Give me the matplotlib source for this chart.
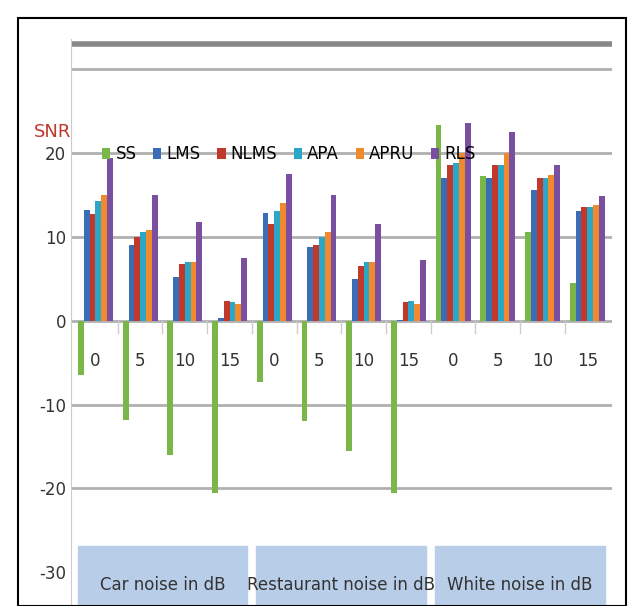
import numpy as np
import matplotlib.pyplot as plt
from matplotlib.patches import Rectangle

series = ['SS', 'LMS', 'NLMS', 'APA', 'APRU', 'RLS']
colors = ['#7ab648', '#3a6db5', '#c0392b', '#2aa7c8', '#f08a2c', '#7b4fa0']
levels = ['0', '5', '10', '15']
groups = ['Car noise in dB', 'Restaurant noise in dB', 'White noise in dB']

ss   = [-6.5, -11.8, -16, -20.5, -7.3, -12, -15.5, -20.5, 23.3, 17.2, 10.5, 4.5]
lms  = [13.2, 9, 5.2, 0.3, 12.8, 8.8, 5, 0.1, 17, 17, 15.5, 13]
nlms = [12.7, 10, 6.7, 2.3, 11.5, 9, 6.5, 2.2, 18.5, 18.5, 17, 13.5]
apa  = [14.2, 10.5, 7, 2.2, 13, 10, 7, 2.3, 18.8, 18.5, 17, 13.5]
apru = [15, 10.8, 7, 2, 14, 10.5, 7, 2, 20, 20, 17.3, 13.8]
rls  = [19.4, 15, 11.8, 7.5, 17.5, 15, 11.5, 7.2, 23.5, 22.5, 18.5, 14.8]
data = [ss, lms, nlms, apa, apru, rls]

fig = plt.figure(figsize=(6.44, 6.06), dpi=100)
fig.patches.append(Rectangle((0.028, 0.0), 0.944, 0.97, transform=fig.transFigure,
                             fill=False, edgecolor='black', lw=1.5))
ax = fig.add_axes([0.11, 0.0, 0.84, 0.935])

x = np.arange(12)
w = 0.13
for i, (s, d) in enumerate(zip(series, data)):
    ax.bar(x + (i - 2.5) * w, d, w, color=colors[i], label=s, zorder=3)

ax.set_xlim(-0.55, 11.55)
ax.set_ylim(-34, 33.5)
ax.set_yticks([-30, -20, -10, 0, 10, 20])
ax.set_yticklabels(['-30', '-20', '-10', '0', '10', '20'])
ax.tick_params(axis='y', length=0, labelsize=12, colors='#333333')
ax.set_xticks([])
for yv in [-20, -10, 0, 10, 20, 30]:
    ax.axhline(yv, color='#b0b0b0', lw=2, zorder=1)
ax.axhline(33, color='#888888', lw=4, zorder=1)
for xv in np.arange(0.5, 11, 1):
    ax.plot([xv, xv], [0, -1.5], color='#cccccc', lw=1, zorder=2)
for k in range(12):
    ax.text(k, -4.8, levels[k % 4], ha='center', va='center', fontsize=12, color='#333333')
for g, name in enumerate(groups):
    ax.add_patch(Rectangle((g * 4 - 0.4, -34), 3.8, 7.2, color='#b8cde8', zorder=2))
    ax.text(g * 4 + 1.5, -31.5, name, ha='center', va='center', fontsize=12, color='#333333', zorder=3)
for sp in ['top', 'right', 'bottom']:
    ax.spines[sp].set_visible(False)
ax.spines['left'].set_color('#cccccc')
ax.text(-0.95, 22.5, 'SNR', color='#c0392b', fontsize=13, ha='center', va='center')
ax.legend(loc='center left', bbox_to_anchor=(0.03, (19.8 + 34) / 67.5), ncol=6, frameon=False,
          fontsize=12, handlelength=0.5, handletextpad=0.3, columnspacing=1.0)
fig.savefig('out.png')
